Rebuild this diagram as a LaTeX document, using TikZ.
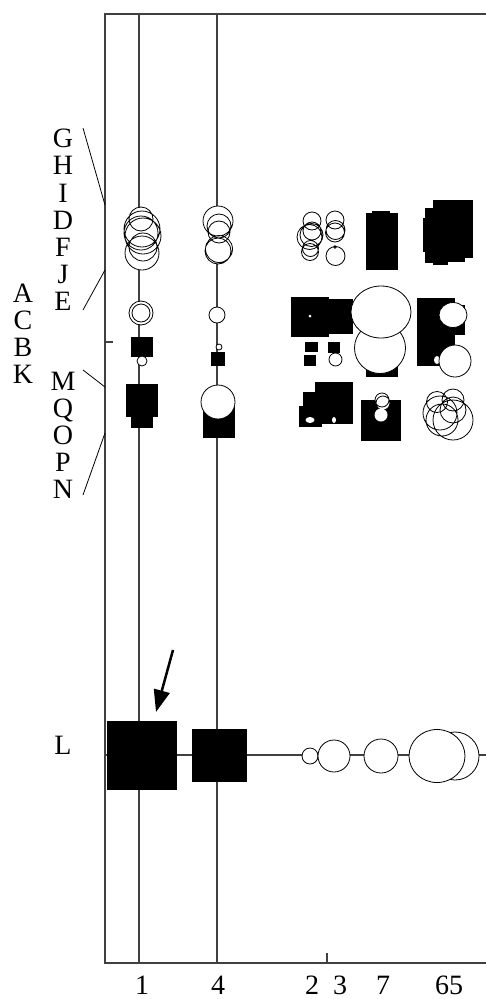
\documentclass[tikz,border=0pt]{standalone}
\usepackage{fontspec}
\setmainfont{Liberation Serif}
\usetikzlibrary{arrows.meta}
\begin{document}
\begin{tikzpicture}[x=1pt,y=-1pt,
  axisline/.style={draw=black!75,line width=1.1pt},
  ringline/.style={draw=black,line width=0.8pt},
  lab/.style={font=\fontsize{28}{28}\selectfont,inner sep=0pt,anchor=base,text height=19pt,text depth=0pt},
  leader/.style={draw=black,line width=0.8pt}]
\useasboundingbox (0,0) rectangle (486,999);
% frame and grid lines
\draw[axisline] (486,14) -- (105,14) -- (105,963) -- (486,963);
\draw[axisline] (139,14) -- (139,963);
\draw[axisline] (217,14) -- (217,963);
\draw[axisline] (105,755) -- (486,755);
\draw[axisline] (105,342) -- (113,342);
\draw[axisline] (327,953) -- (327,963);
% leader lines
\draw[leader] (83,128) -- (105,205);
\draw[leader] (83,310) -- (105,270);
\draw[leader] (83,370) -- (105,387);
\draw[leader] (83,495) -- (105,433);
% labels
\node[lab] (lG) at (63,147.5) {G};
\node[lab] (lH) at (63,174.5) {H};
\node[lab] (lI) at (63,202.5) {I};
\node[lab] (lD) at (63,229.5) {D};
\node[lab] (lF) at (63,256.5) {F};
\node[lab] (lJ) at (63,283.5) {J};
\node[lab] (lE) at (63,310.5) {E};
\node[lab] (lA) at (23,302.5) {A};
\node[lab] (lC) at (23,329.5) {C};
\node[lab] (lB) at (23,356.5) {B};
\node[lab] (lK) at (23,383.5) {K};
\node[lab] (lM) at (63,390.5) {M};
\node[lab] (lQ) at (63,417.5) {Q};
\node[lab] (lO) at (63,444.5) {O};
\node[lab] (lP) at (63,471.5) {P};
\node[lab] (lN) at (63,498.5) {N};
\node[lab] (lL) at (63,754.5) {L};
\node[lab] (n1) at (142,994) {1};
\node[lab] (n4) at (218,994) {4};
\node[lab] (n2) at (312,994) {2};
\node[lab] (n3) at (340,994) {3};
\node[lab] (n7) at (383,994) {7};
\node[lab] (n65) at (449,994) {65};
% ---- row 1 ----
\def\clusterA{(141,219) circle[radius=12pt] (142,229) circle[radius=18pt] (141,233) circle[radius=17pt] (143,236) circle[radius=18pt] (142,253) circle[radius=17pt] (143,247) circle[radius=14pt]}
\fill[white] \clusterA; \draw[ringline] \clusterA;
\def\clusterB{(218,221) circle[radius=15pt] (219,226) circle[radius=12pt] (219,232) circle[radius=11pt] (218,251) circle[radius=13pt] (219,249) circle[radius=13.5pt]}
\fill[white] \clusterB; \draw[ringline] \clusterB;
\def\clusterC{(312,221) circle[radius=9pt] (309.5,237) circle[radius=12.5pt] (312,231) circle[radius=9pt] (311.5,235) circle[radius=11.5pt] (310.5,248.5) circle[radius=8pt] (310,252) circle[radius=8.5pt]}
\fill[white] \clusterC; \draw[ringline] \clusterC;
\def\clusterD{(335,220) circle[radius=9pt] (335.5,230) circle[radius=9.5pt] (335,232.5) circle[radius=9.5pt] (335.5,256) circle[radius=9.5pt]}
\fill[white] \clusterD; \draw[ringline] \clusterD;
\draw[ringline] (335,247) circle[radius=1.2pt];
\fill (366,213) rectangle (398,270);
\fill (372,211) rectangle (390,214);
\fill (433,200) rectangle (473,258);
\fill (425,208) rectangle (434,263);
\fill (423,218) rectangle (426,252);
\fill (433,257) rectangle (465,262);
\fill (433,261) rectangle (448,265);
% ---- row 2 ----
\fill[white] (141,313) circle[radius=12pt];
\draw[ringline] (141,313) circle[radius=12pt] (141,313) circle[radius=9pt];
\fill (131,337) rectangle (153,357);
\filldraw[ringline,fill=white] (142,361) circle[radius=5pt];
\filldraw[ringline,fill=white] (217,315) circle[radius=8pt];
\filldraw[ringline,fill=white] (219,347) circle[radius=3pt];
\fill (211,352) rectangle (225,366);
\fill (291,297) rectangle (329,337);
\fill (328,299) rectangle (353,334);
\fill[white] (310,316) circle[radius=1.5pt];
\fill (305,342) rectangle (318,352);
\fill (304,355) rectangle (316,366);
\fill (328,342) rectangle (340,353);
\filldraw[ringline,fill=white] (335.5,359.5) circle[radius=6.5pt];
\fill (366,340) rectangle (398,377);
\filldraw[ringline,fill=white] (380,348) circle[radius=25.5pt];
\filldraw[ringline,fill=white] (381,312) ellipse[x radius=30pt,y radius=26pt];
\fill (417,298) rectangle (455,366);
\fill (455,305) rectangle (465,335);
\filldraw[ringline,fill=white] (453,315) ellipse[x radius=14pt,y radius=12.5pt];
\fill[white] (437,360) ellipse[x radius=3pt,y radius=4pt];
\filldraw[ringline,fill=white] (455,361) circle[radius=16pt];
% ---- row 3 ----
\fill (126,384) rectangle (158,417);
\fill (131,416) rectangle (153,428);
\fill (203,405) rectangle (235,438);
\filldraw[ringline,fill=white] (218,402) circle[radius=17pt];
\fill (315,382) rectangle (353,424);
\fill (303,392) rectangle (322,427);
\fill (299,406) rectangle (303,427);
\fill[white] (310,420) ellipse[x radius=4.5pt,y radius=3pt];
\fill[white] (334,420) ellipse[x radius=2pt,y radius=3pt];
\fill (361,400) rectangle (401,441);
\def\clusterE{(382,400) circle[radius=7pt] (383,403) circle[radius=7pt]}
\fill[white] \clusterE; \draw[ringline] \clusterE;
\fill[white] (381,415) circle[radius=6.5pt];
\def\clusterF{(437,402) circle[radius=10.5pt] (453,400) circle[radius=11pt] (440,413) circle[radius=17pt] (453,420) circle[radius=20pt] (442,420) circle[radius=16pt] (453,410) circle[radius=13pt]}
\fill[white] \clusterF; \draw[ringline] \clusterF;
% ---- row L ----
\fill (107,721) rectangle (177,790);
\fill (192,729) rectangle (247,782);
\filldraw[ringline,fill=white] (310,756) circle[radius=8pt];
\filldraw[ringline,fill=white] (334,756) circle[radius=16pt];
\filldraw[ringline,fill=white] (381,756) circle[radius=17pt];
\filldraw[ringline,fill=white] (455,756) circle[radius=24pt];
\filldraw[ringline,fill=white] (437,756) ellipse[x radius=28pt,y radius=26.5pt];
% arrow
\coordinate (atail) at (173,650);
\coordinate (atip) at (156,712);
\draw[line width=2.5pt,-{Triangle[width=16pt,length=22pt]}] (atail) -- (atip);
\end{tikzpicture}
\end{document}
